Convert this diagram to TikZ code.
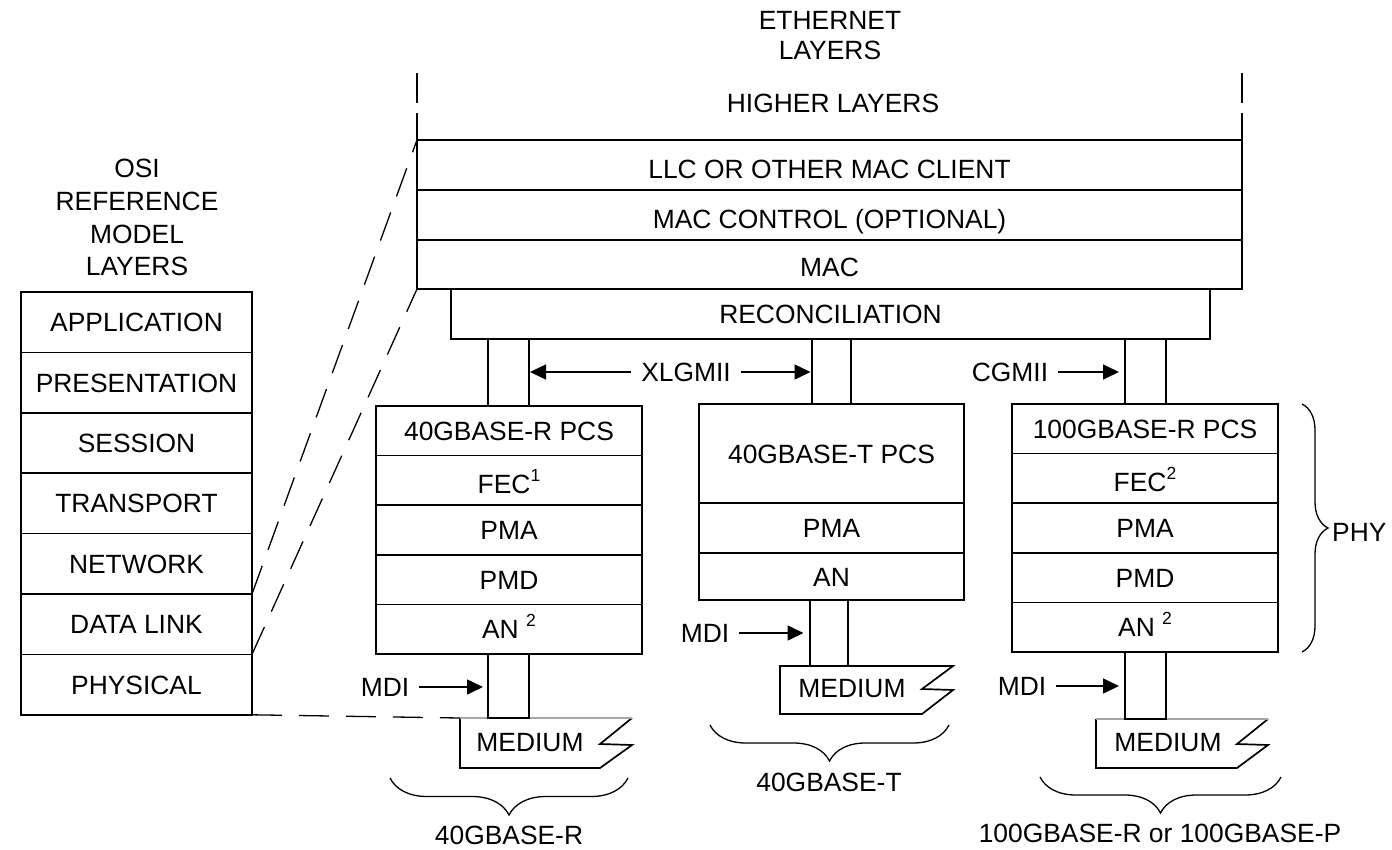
\documentclass[tikz,border=0pt]{standalone}
\usepackage{fontspec}
\setmainfont{Liberation Sans}
\usetikzlibrary{arrows.meta,decorations.pathreplacing}
\newcommand\supnum[1]{\raisebox{0.45em}{\fontsize{17.5}{17.5}\selectfont #1}}
\begin{document}
\begin{tikzpicture}[x=1pt,y=-1pt,
  lab/.style={font=\fontsize{26.4}{31}\selectfont, inner sep=0},
  cell/.style={draw, line width=1.7pt, inner sep=0, outer sep=0, text height=19pt, text depth=0pt, font=\fontsize{26.4}{31}\selectfont},
  dn/.style={text height=26pt},
  wire/.style={line width=1.7pt},
  dsh/.style={line width=1.3pt, dash pattern=on 30pt off 17pt},
  arr/.style={line width=1.6pt, -{Triangle[length=16pt,width=15pt]}},
  brc/.style={decorate, line width=1.3pt, decoration={brace, amplitude=#1}},
]
\useasboundingbox (0,0) rectangle (1392,849);

% headers
\node[lab] (eth1) at (830,20) {ETHERNET};
\node[lab] (eth2) at (830,50) {LAYERS};
\node[lab] (osi1) at (137,168) {OSI};
\node[lab] (osi2) at (137,201) {REFERENCE};
\node[lab] (osi3) at (137,234) {MODEL};
\node[lab] (osi4) at (137,266) {LAYERS};

% OSI stack
\node[cell, minimum width=231pt, minimum height=60.4pt] (app) at (136.5,322.2) {APPLICATION};
\node[cell, minimum width=231pt, minimum height=60.4pt] (pres) at (136.5,382.6) {PRESENTATION};
\node[cell, minimum width=231pt, minimum height=60.4pt] (sess) at (136.5,443) {SESSION};
\node[cell, minimum width=231pt, minimum height=60.4pt] (trans) at (136.5,503.4) {TRANSPORT};
\node[cell, minimum width=231pt, minimum height=60.4pt] (net) at (136.5,563.8) {NETWORK};
\node[cell, minimum width=231pt, minimum height=60.4pt] (dl) at (136.5,624.2) {DATA LINK};
\node[cell, minimum width=231pt, minimum height=60.4pt] (phys) at (136.5,684.6) {PHYSICAL};

% Ethernet stack
\node[lab] (hl) at (833,103) {HIGHER LAYERS};
\node[cell, dn, minimum width=825pt, minimum height=50pt] (llc) at (829.5,165) {LLC OR OTHER MAC CLIENT};
\node[cell, dn, minimum width=825pt, minimum height=50pt] (macc) at (829.5,215) {MAC CONTROL (OPTIONAL)};
\node[cell, text height=23pt, minimum width=825pt, minimum height=49pt] (mac) at (829.5,264.5) {MAC};
\node[cell, minimum width=759pt, minimum height=50pt] (rec) at (830.5,314) {RECONCILIATION};
\draw[wire] (llc.north west) -- ++(0,-27);
\draw[wire] (llc.north west) ++(0,-37) -- ++(0,-30);
\draw[wire] (llc.north east) -- ++(0,-27);
\draw[wire] (llc.north east) ++(0,-37) -- ++(0,-30);

% 40GBASE-R stack
\node[cell, minimum width=266pt, minimum height=49.6pt] (rpcs) at (509,430.8) {40GBASE-R PCS};
\node[cell, dn, minimum width=266pt, minimum height=49.6pt] (rfec) at (509,480.4) {FEC\supnum{1}};
\node[cell, minimum width=266pt, minimum height=49.6pt] (rpma) at (509,530) {PMA};
\node[cell, minimum width=266pt, minimum height=49.6pt] (rpmd) at (509,579.6) {PMD};
\node[cell, minimum width=266pt, minimum height=49.6pt] (ran) at (509,629.2) {AN \supnum{2}};

% 40GBASE-T stack
\node[cell, minimum width=265pt, minimum height=99pt] (tpcs) at (831.5,453.5) {40GBASE-T PCS};
\node[cell, minimum width=265pt, minimum height=50pt] (tpma) at (831.5,528) {PMA};
\node[cell, minimum width=265pt, minimum height=47pt] (tan) at (831.5,576.5) {AN};

% 100GBASE-R stack
\node[cell, minimum width=266pt, minimum height=49.6pt] (cpcs) at (1145,428.8) {100GBASE-R PCS};
\node[cell, dn, minimum width=266pt, minimum height=49.6pt] (cfec) at (1145,478.4) {FEC\supnum{2}};
\node[cell, minimum width=266pt, minimum height=49.6pt] (cpma) at (1145,528) {PMA};
\node[cell, minimum width=266pt, minimum height=49.6pt] (cpmd) at (1145,577.6) {PMD};
\node[cell, minimum width=266pt, minimum height=49.6pt] (can) at (1145,627.2) {AN \supnum{2}};

% upper buses
\foreach \d in {-21,20} {
  \draw[wire] ([xshift=\d pt]rpcs.north |- rec.south) -- ([xshift=\d pt]rpcs.north);
}
\foreach \d in {-19.5,19.5} {
  \draw[wire] ([xshift=\d pt]tpcs.north |- rec.south) -- ([xshift=\d pt]tpcs.north);
}
\foreach \d in {-20,21} {
  \draw[wire] ([xshift=\d pt]cpcs.north |- rec.south) -- ([xshift=\d pt]cpcs.north);
}

% media
\coordinate (rm) at (460,718);
\draw[wire] (632,718) -- (600,744) -- (632,745) -- (600,768) -- (460,768) -- (rm);
\draw[wire, gray!70] (rm) -- (632,718);
\node[lab] (rmed) at (530,743) {MEDIUM};

\coordinate (tm) at (780,666);
\draw[wire] (tm) -- (953,666) -- (922,689) -- (953,690) -- (922,714) -- (780,714) -- cycle;
\node[lab] (tmed) at (852,689) {MEDIUM};

\coordinate (cm) at (1096,719);
\draw[wire] (1268,719) -- (1237,744) -- (1268,745) -- (1237,768) -- (1096,768) -- (cm);
\draw[wire, gray!70] (cm) -- (1268,719);
\node[lab] (cmed) at (1168,743) {MEDIUM};

% lower buses
\draw[wire] ([xshift=-21pt]ran.south) -- ([xshift=-21pt]ran.south |- rm) -- ([xshift=20pt]ran.south |- rm) -- ([xshift=20pt]ran.south);
\draw[wire] ([xshift=-21.5pt]tan.south) -- ([xshift=-21.5pt]tan.south |- tm);
\draw[wire] ([xshift=16.5pt]tan.south) -- ([xshift=16.5pt]tan.south |- tm);
\draw[wire] ([xshift=-20pt]can.south) -- ([xshift=-20pt]can.south |- cm) -- ([xshift=21pt]can.south |- cm) -- ([xshift=21pt]can.south);

% interface labels and arrows
\node[lab] (xlg) at (686,372) {XLGMII};
\draw[arr] ([xshift=-10pt]xlg.west) -- ([xshift=21pt]rpcs.north |- xlg);
\draw[arr] ([xshift=10pt]xlg.east) -- ([xshift=-21pt]tpcs.north |- xlg);
\node[lab] (cg) at (1010,372) {CGMII};
\draw[arr] ([xshift=10pt]cg.east) -- ([xshift=-26pt]cpcs.north |- cg);

\node[lab] (mdi1) at (385,687) {MDI};
\draw[arr] ([xshift=10pt]mdi1.east) -- ([xshift=-26pt]ran.south |- mdi1);
\node[lab] (mdi2) at (705,633) {MDI};
\draw[arr] ([xshift=10pt]mdi2.east) -- ([xshift=-28pt]tan.south |- mdi2);
\node[lab] (mdi3) at (1022,686) {MDI};
\draw[arr] ([xshift=10pt]mdi3.east) -- ([xshift=-26pt]can.south |- mdi3);

% dashed mapping lines
\draw[dsh] (dl.north east) -- (llc.north west);
\draw[dsh] (phys.north east) -- (mac.south west);
\draw[dsh] (phys.south east) -- (rm);

% braces
\draw[brc=37pt] (628,778) -- (390,778);
\node[lab] (l40r) at (509,835) {40GBASE-R};
\draw[brc=36pt] (949,725) -- (710,725);
\node[lab] (l40t) at (829,782) {40GBASE-T};
\draw[brc=36pt] (1281,777) -- (1040,777);
\node[lab] (l100) at (1160,833) {100GBASE-R or 100GBASE-P};
\draw[brc=26pt] (1302,404) -- (1302,652);
\node[lab, anchor=west] (phy) at (1332,532) {PHY};
\end{tikzpicture}
\end{document}
